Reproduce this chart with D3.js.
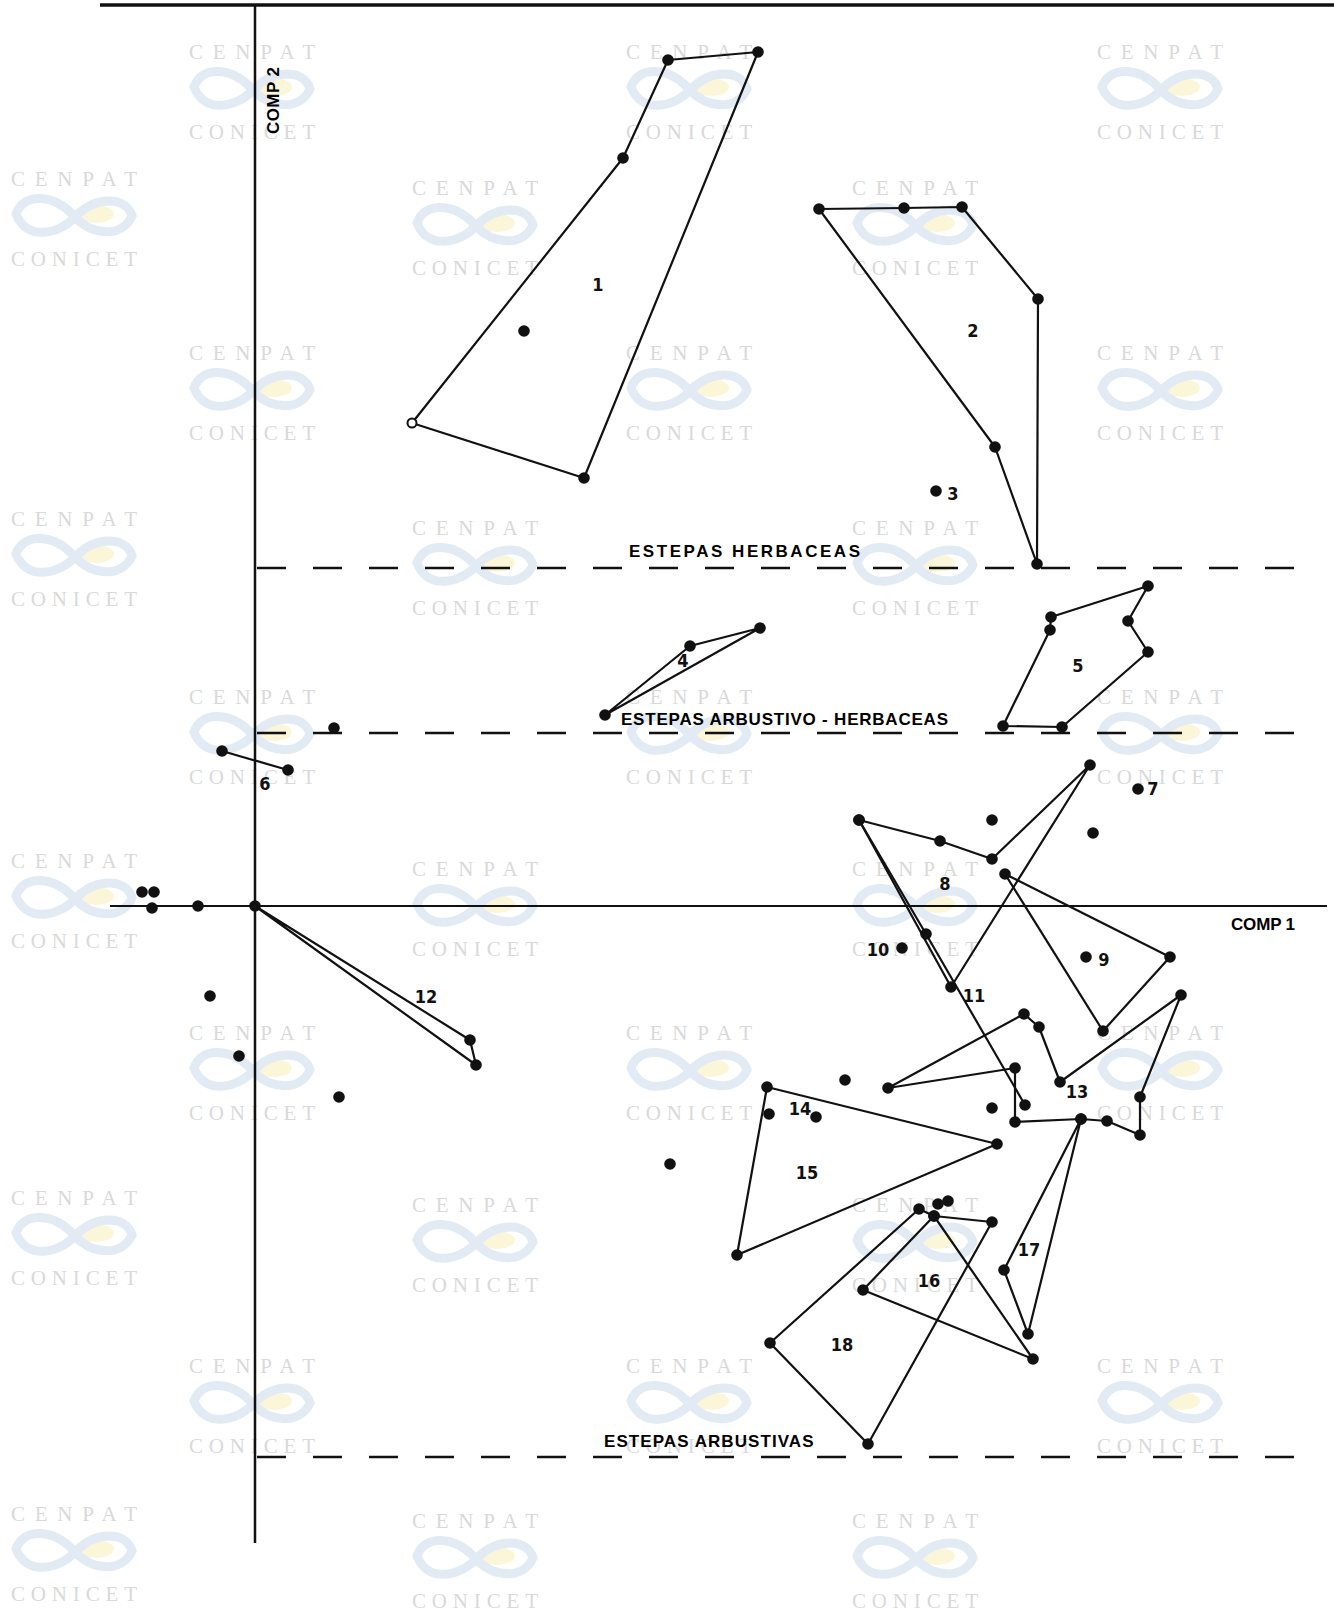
<!DOCTYPE html>
<html>
<head>
<meta charset="utf-8">
<script src="https://cdn.jsdelivr.net/npm/d3@7"></script>
<style>
  html, body { margin: 0; padding: 0; background: #fff; }
  svg { display: block; }
  .num { font-family: "Liberation Sans Narrow", "DejaVu Sans Condensed", Arial, sans-serif; font-weight: bold; font-size: 18px; }
  .zone { font-family: "Liberation Sans Narrow", "Liberation Sans", Arial, sans-serif; font-weight: bold; font-size: 17px; }
  .wm { font-family: "Liberation Serif", "DejaVu Serif", serif; font-size: 21px; fill: #d9d9d9; }
</style>
</head>
<body>
<div id="chart"></div>
<script>
// ordination scores (COMP 1, COMP 2) of each stand, grouped by community
const hull1 = [[4.13, 8.46], [5.03, 8.54], [3.29, 4.28], [1.57, 4.83], [3.68, 7.48]];
const hull2 = [[5.64, 6.97], [6.49, 6.98], [7.07, 6.99], [7.83, 6.07], [7.82, 3.42], [7.40, 4.59]];
const hull4 = [[3.50, 1.91], [4.35, 2.60], [5.05, 2.78]];
const hull5 = [[7.96, 2.89], [8.93, 3.20], [8.73, 2.85], [8.93, 2.54], [8.07, 1.79], [7.48, 1.80], [7.95, 2.76]];
const line6 = [[-0.33, 1.55], [0.33, 1.36]];
const hull8 = [[6.04, 0.86], [6.85, 0.65], [7.37, 0.47], [8.35, 1.41], [6.96, -0.81]];
const hull9 = [[7.50, 0.32], [9.15, -0.51], [8.48, -1.25]];
const line11 = [[6.04, 0.86], [6.71, -0.28], [7.70, -1.99]];
const hull12 = [[0, 0], [2.15, -1.34], [2.21, -1.59]];
const hull13 = [[6.33, -1.82], [7.69, -1.08], [7.84, -1.21], [8.05, -1.76], [9.26, -0.89], [8.85, -1.91],
                [8.85, -2.29], [8.52, -2.15], [8.26, -2.13], [7.60, -2.16], [7.60, -1.62]];
const hull15 = [[5.12, -1.81], [7.42, -2.38], [4.82, -3.49]];
const hull16 = [[6.79, -3.10], [6.08, -3.84], [7.78, -4.53]];
const hull17 = [[8.26, -2.13], [7.49, -3.64], [7.73, -4.28]];
const hull18 = [[6.64, -3.03], [5.15, -4.37], [6.13, -5.38], [7.37, -3.16], [6.79, -3.10]];

// stands outside any drawn polygon
const loosePoints = [
  [2.69, 5.75], [6.81, 4.15], [0.79, 1.78], [8.83, 1.17],
  [7.37, 0.86], [8.38, 0.73], [8.31, -0.51], [6.47, -0.42],
  [-1.13, 0.14], [-1.01, 0.14], [-1.03, -0.02], [-0.57, 0.00],
  [-0.45, -0.90], [-0.16, -1.50], [0.84, -1.91],
  [5.90, -1.74], [7.37, -2.02], [5.14, -2.08], [5.61, -2.11],
  [4.15, -2.58], [6.83, -2.98], [6.93, -2.95]
];
const openPoints = [[1.57, 4.83]];

const groupLabels = ["1", "2", "3", "4", "5", "6", "7", "8", "9", "10", "11", "12", "13", "14", "15", "16", "17", "18"];
const labelX = [3.43, 7.18, 6.98, 4.28, 8.23, 0.10, 8.98, 6.90, 8.49, 6.23, 7.19, 1.71, 8.22, 5.45, 5.52, 6.74, 7.74, 5.87];
const labelY = [6.21, 5.75, 4.12, 2.45, 2.40, 1.22, 1.17, 0.22, -0.54, -0.44, -0.90, -0.91, -1.86, -2.03, -2.67, -3.75, -3.44, -4.39];

// vegetation zones: dashed boundaries on COMP 2 and their names
const zoneBounds = [3.38, 1.73, -5.51];
const zoneNames = ["ESTEPAS  HERBACEAS", "ESTEPAS  ARBUSTIVO - HERBACEAS", "ESTEPAS  ARBUSTIVAS"];
const zoneNameX = [[3.74, 6.05], [3.66, 6.93], [3.49, 5.585]];
const zoneNameY = [3.55, 1.87, -5.35];

// scanned-archive watermark grid
const wmCols = [[252, 689, 1160], [475, 915], [74]];
const wmRows = [[51, 352, 696, 1032, 1365], [187, 527, 868, 1204, 1520], [178, 518, 860, 1197, 1513]];

const width = 1334, height = 1613;
const x = d3.scaleLinear().domain([0, 1]).range([255, 355]);
const y = d3.scaleLinear().domain([0, 1]).range([906, 806]);

const svg = d3.select("#chart").append("svg")
  .attr("width", width)
  .attr("height", height);
svg.append("rect").attr("width", width).attr("height", height).attr("fill", "#fff");

// watermark
const wm = svg.append("g");
wmCols.forEach((cols, k) => {
  cols.forEach(cx => {
    wmRows[k].forEach(cy => {
      const g = wm.append("g").attr("transform", `translate(${cx},${cy})`);
      g.append("text").attr("class", "wm").attr("text-anchor", "middle").attr("y", 8)
        .attr("textLength", 126).attr("lengthAdjust", "spacing").text("CENPAT");
      g.append("ellipse").attr("cx", 22).attr("cy", 36).attr("rx", 18).attr("ry", 9).attr("fill", "#fcf6d8");
      g.append("path")
        .attr("d", "M-58,36 C-50,14 -20,16 0,38 C18,58 48,60 58,38 C52,18 22,18 2,38 C-16,58 -48,62 -58,36 Z")
        .attr("fill", "none").attr("stroke", "#e2eaf4").attr("stroke-width", 9);
      g.append("text").attr("class", "wm").attr("text-anchor", "middle").attr("y", 88)
        .attr("textLength", 126).attr("lengthAdjust", "spacing").text("CONICET");
    });
  });
});

// frame and axes
svg.append("line").attr("x1", 100).attr("x2", width).attr("y1", 5).attr("y2", 5)
  .attr("stroke", "#111").attr("stroke-width", 3.5);
svg.append("line").attr("x1", x(0)).attr("x2", x(0)).attr("y1", 5).attr("y2", 1543)
  .attr("stroke", "#111").attr("stroke-width", 2.5);
svg.append("line").attr("x1", 110).attr("x2", 1327).attr("y1", y(0)).attr("y2", y(0))
  .attr("stroke", "#111").attr("stroke-width", 2);

svg.selectAll(".bound").data(zoneBounds).join("line")
  .attr("class", "bound")
  .attr("x1", x(0) + 2).attr("x2", 1306)
  .attr("y1", d => y(d)).attr("y2", d => y(d))
  .attr("stroke", "#111").attr("stroke-width", 2.5)
  .attr("stroke-dasharray", "29,27");

svg.selectAll(".zone").data(zoneNames).join("text")
  .attr("class", "zone")
  .attr("x", (d, i) => x(zoneNameX[i][0]))
  .attr("y", (d, i) => y(zoneNameY[i]))
  .attr("textLength", (d, i) => x(zoneNameX[i][1]) - x(zoneNameX[i][0]))
  .attr("lengthAdjust", "spacing")
  .attr("dy", "0.35em")
  .text(d => d);

svg.append("text").attr("class", "zone").attr("x", 1231).attr("y", y(0) + 18)
  .attr("dy", "0.35em").attr("textLength", 64).attr("lengthAdjust", "spacing").text("COMP 1");
svg.append("text").attr("class", "zone")
  .attr("transform", `translate(${x(0) + 24},134) rotate(-90)`)
  .attr("textLength", 67).attr("lengthAdjust", "spacing").text("COMP 2");

// polygons
const closedLine = d3.line().x(d => x(d[0])).y(d => y(d[1])).curve(d3.curveLinearClosed);
const openLine = d3.line().x(d => x(d[0])).y(d => y(d[1]));
const closedShapes = [hull1, hull2, hull4, hull5, hull8, hull9, hull12, hull13, hull15, hull16, hull17, hull18];
const openShapes = [line6, line11];

svg.selectAll(".hull").data(closedShapes).join("path")
  .attr("class", "hull")
  .attr("d", closedLine)
  .attr("fill", "none").attr("stroke", "#111").attr("stroke-width", 2.2)
  .attr("stroke-linejoin", "round");
svg.selectAll(".link").data(openShapes).join("path")
  .attr("class", "link")
  .attr("d", openLine)
  .attr("fill", "none").attr("stroke", "#111").attr("stroke-width", 2.2);

// stand points
const allPoints = closedShapes.concat(openShapes).flat().concat(loosePoints)
  .filter(p => !openPoints.some(o => o[0] === p[0] && o[1] === p[1]));
svg.selectAll(".pt").data(allPoints).join("circle")
  .attr("class", "pt")
  .attr("cx", d => x(d[0])).attr("cy", d => y(d[1]))
  .attr("r", 5.8).attr("fill", "#111");
svg.selectAll(".opt").data(openPoints).join("circle")
  .attr("class", "opt")
  .attr("cx", d => x(d[0])).attr("cy", d => y(d[1]))
  .attr("r", 4.5).attr("fill", "#fff").attr("stroke", "#111").attr("stroke-width", 2);

// group numbers
svg.selectAll(".num").data(groupLabels).join("text")
  .attr("class", "num")
  .attr("x", (d, i) => x(labelX[i])).attr("y", (d, i) => y(labelY[i]))
  .attr("text-anchor", "middle").attr("dy", "0.35em")
  .attr("fill", "#111")
  .text(d => d);
</script>
</body>
</html>
